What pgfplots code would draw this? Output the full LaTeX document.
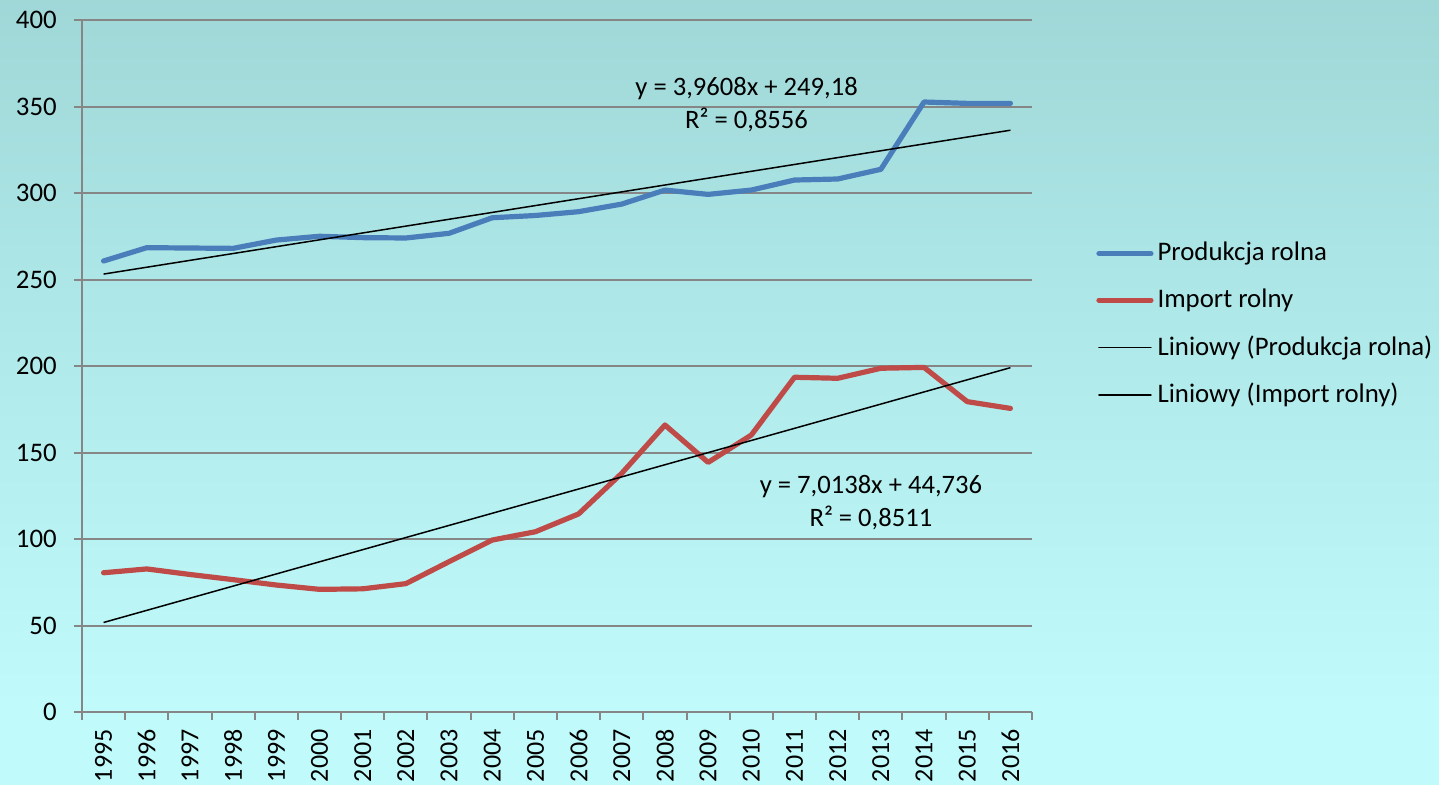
\documentclass[border=0pt]{standalone}
\usepackage{fontspec}
\setmainfont{Carlito}
\usepackage{pgfplots}
\pgfplotsset{compat=1.18}
\definecolor{prodblue}{HTML}{4A7EBB}
\definecolor{impred}{HTML}{BE4B48}
\definecolor{gridgray}{HTML}{868686}
\definecolor{bgtop}{HTML}{8DC1C2}
\definecolor{bgmid}{HTML}{ABE4E4}
\definecolor{bglow}{HTML}{C0FAFA}
\definecolor{bgbot}{HTML}{9CE2F0}
\pgfdeclareverticalshading{bgshade}{100bp}{color(0bp)=(bgbot); color(7bp)=(bglow); color(30bp)=(bglow); color(60bp)=(bgmid); color(100bp)=(bgtop)}
\pgfplotstableread{
x prod imp
1 260.7 80.5
2 268.4 82.7
3 268.2 79.5
4 268.0 76.5
5 272.8 73.4
6 275.0 70.9
7 274.2 71.2
8 274.0 74.2
9 276.7 86.9
10 285.7 99.4
11 287.0 104.2
12 289.2 114.5
13 293.6 138.0
14 301.7 165.9
15 299.2 144.3
16 301.7 160.1
17 307.5 193.5
18 308.1 192.9
19 313.7 198.7
20 352.6 199.2
21 351.8 179.4
22 351.8 175.5
}\datatable
\begin{document}
\fontsize{13.4}{16}\selectfont
\begin{tikzpicture}
\useasboundingbox (0,0) rectangle (719.5pt,392pt);
\shade[shading=bgshade] (0,0) rectangle (719.5pt,392pt);
\begin{axis}[
  at={(41pt,36pt)}, anchor=south west,
  scale only axis, width=475pt, height=346pt,
  xmin=0.5, xmax=22.5, ymin=0, ymax=400,
  ytick={0,50,...,400},
  /pgf/number format/assume math mode=true,
  ymajorgrids, grid style={gridgray, line width=1pt},
  axis x line*=bottom, axis y line*=left,
  axis line style={gridgray, line width=1pt, -},
  xtick={1,...,22},
  xticklabels={1995,1996,1997,1998,1999,2000,2001,2002,2003,2004,2005,2006,2007,2008,2009,2010,2011,2012,2013,2014,2015,2016},
  major x tick style={draw=none},
  minor xtick={0.5,1.5,...,22.5},
  tick align=outside,
  tick style={gridgray, line width=1pt},
  major tick length=4pt, minor tick length=4pt,
  xticklabel style={rotate=90, anchor=east, font=\fontsize{13}{16}\selectfont},
  yticklabel style={font=\fontsize{13.4}{16}\selectfont, xshift=-4pt},
  legend style={at={(1.061,0.691)}, anchor=north west, draw=none, fill=none,
    font=\fontsize{13.4}{16}\selectfont, row sep=8pt},
  legend cell align=left,
  legend image code/.code={\draw[#1, line cap=round] (0pt,0pt) -- (26pt,0pt);},
  clip=false,
]
\addplot[prodblue, line width=2.6pt, line cap=round, line join=round] table[x=x, y=prod] {\datatable};
\addlegendentry{Produkcja rolna}
\addplot[impred, line width=2.6pt, line cap=round, line join=round] table[x=x, y=imp] {\datatable};
\addlegendentry{Import rolny}
\addplot[black, line width=0.75pt] coordinates {(1,253.14) (22,336.30)};
\addlegendentry{Liniowy (Produkcja rolna)}
\addplot[black, line width=0.75pt] coordinates {(1,51.75) (22,199.04)};
\addlegendentry{Liniowy (Import rolny)}
\node[align=center, font=\fontsize{13.3}{16.5}\selectfont] at (axis cs:15.89,351) {y = 3,9608x + 249,18\\R² = 0,8556};
\node[align=center, font=\fontsize{13.3}{16.5}\selectfont] at (axis cs:18.77,121.3) {y = 7,0138x + 44,736\\R² = 0,8511};
\end{axis}
\end{tikzpicture}
\end{document}
